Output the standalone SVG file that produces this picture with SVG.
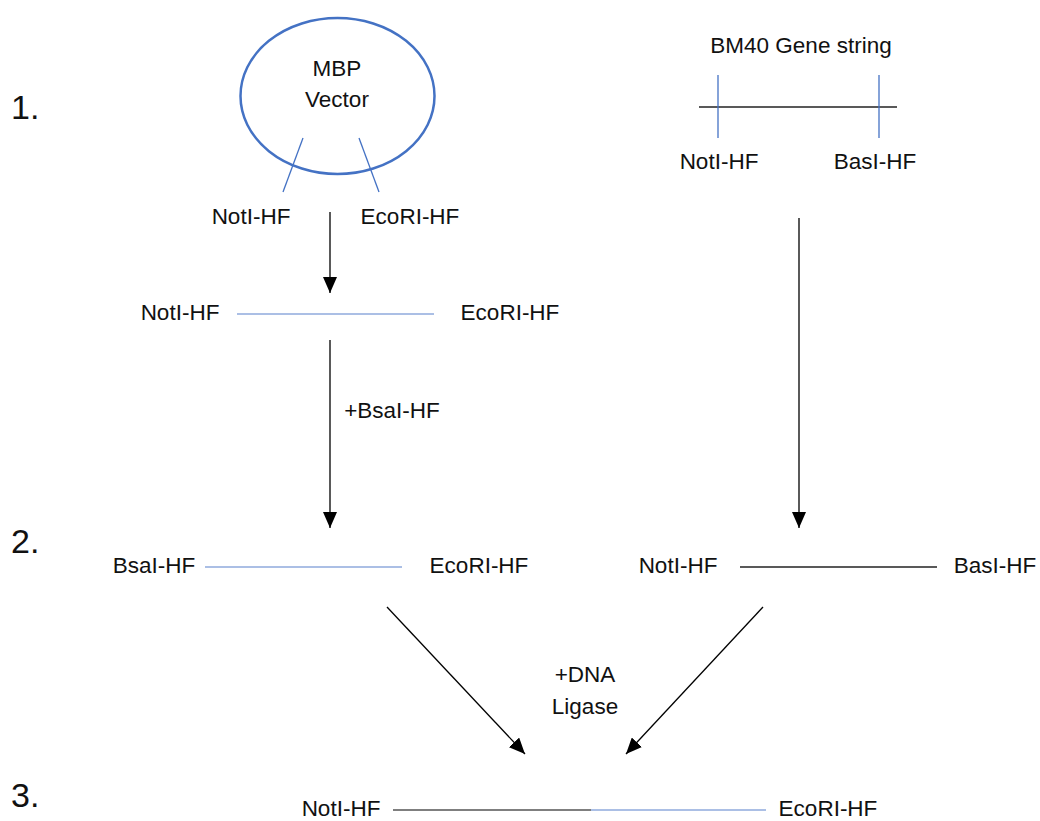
<svg xmlns="http://www.w3.org/2000/svg" width="1040" height="821" viewBox="0 0 1040 821">
<style>
text{font-family:"Liberation Sans",Arial,sans-serif;font-size:22.5px;fill:#111;text-anchor:middle}
.num{font-size:34px;text-anchor:start}
.blue{stroke:#4472c4;stroke-width:1.3;fill:none}
.lblue{stroke:#8faadc;stroke-width:1.5;fill:none}
.blk{stroke:#222;stroke-width:1.3;fill:none}
.arr{stroke:#000;stroke-width:1.3;fill:none;marker-end:url(#ah)}
</style>
<defs>
<marker id="ah" markerUnits="userSpaceOnUse" markerWidth="16" markerHeight="14" viewBox="0 0 16 14" refX="16" refY="7" orient="auto">
<path d="M0,0 L16,7 L0,14 Z" fill="#000"/>
</marker>
</defs>
<rect width="1040" height="821" fill="#fff"/>
<g id="step-numbers">
<text class="num" x="11" y="119">1.</text>
<text class="num" x="11" y="553">2.</text>
<text class="num" x="11" y="807">3.</text>
</g>
<g id="mbp-vector">
<ellipse cx="337.5" cy="96" rx="97" ry="78" stroke="#4472c4" stroke-width="2.5" fill="none"/>
<text x="337" y="76">MBP</text>
<text x="337" y="107">Vector</text>
<line class="blue" x1="303" y1="138" x2="283" y2="192"/>
<line class="blue" x1="359" y1="138" x2="379" y2="192"/>
<text x="251" y="224">NotI-HF</text>
<text x="410" y="224">EcoRI-HF</text>
</g>
<g id="bm40-gene">
<text x="801" y="53">BM40 Gene string</text>
<line class="blk" x1="699" y1="107" x2="897" y2="107"/>
<line class="blue" x1="718" y1="75" x2="718" y2="138"/>
<line class="blue" x1="879" y1="75" x2="879" y2="138"/>
<text x="719" y="169">NotI-HF</text>
<text x="875" y="169">BasI-HF</text>
</g>
<g id="linear-vector">
<text x="180" y="320">NotI-HF</text>
<line class="lblue" x1="237" y1="314" x2="434" y2="314"/>
<text x="510" y="320">EcoRI-HF</text>
</g>
<g id="digested-vector">
<text x="154" y="573">BsaI-HF</text>
<line class="lblue" x1="205" y1="567" x2="402" y2="567"/>
<text x="479" y="573">EcoRI-HF</text>
</g>
<g id="digested-gene">
<text x="678" y="573">NotI-HF</text>
<line class="blk" x1="740" y1="567" x2="937" y2="567"/>
<text x="995" y="573">BasI-HF</text>
</g>
<g id="ligated-product">
<text x="341" y="816">NotI-HF</text>
<line stroke="#555" stroke-width="1.5" x1="393" y1="810" x2="591" y2="810"/>
<line class="lblue" x1="591" y1="810" x2="766" y2="810"/>
<text x="828" y="816">EcoRI-HF</text>
</g>
<g id="connectors">
<line class="arr" x1="330" y1="212" x2="330" y2="293"/>
<line class="arr" x1="330" y1="340" x2="330" y2="528"/>
<text x="392" y="418">+BsaI-HF</text>
<line class="arr" x1="799" y1="218" x2="799" y2="528"/>
<line class="arr" x1="387" y1="607" x2="525" y2="754"/>
<line class="arr" x1="763" y1="607" x2="626" y2="754"/>
<text x="585" y="682">+DNA</text>
<text x="585" y="714">Ligase</text>
</g>
</svg>
